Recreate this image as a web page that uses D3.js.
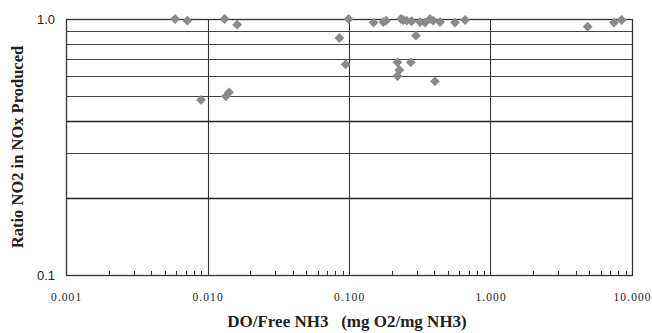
<!DOCTYPE html>
<html>
<head>
<meta charset="utf-8">
<script src="https://cdn.jsdelivr.net/npm/d3@7"></script>
<style>
  body { margin: 0; background: #fff; }
  svg { display: block; }
</style>
</head>
<body>
<svg id="chart" width="652" height="333"></svg>
<script>
// DO / free NH3 ratio (mg O2/mg NH3)
const doRatio = [0.0059, 0.0072, 0.0090, 0.0132, 0.0135, 0.0142, 0.0162, 0.0855, 0.0947, 0.0995,
                 0.149, 0.175, 0.183, 0.220, 0.227, 0.220, 0.233, 0.242, 0.256, 0.273, 0.277, 0.297,
                 0.318, 0.345, 0.374, 0.394, 0.405, 0.440, 0.561, 0.661, 4.86, 7.46, 8.45];
// NO2 / NOx ratio produced
const no2Ratio = [1.0, 0.985, 0.483, 1.0, 0.499, 0.517, 0.95, 0.843, 0.665, 1.0,
                  0.968, 0.973, 0.985, 0.677, 0.632, 0.599, 1.0, 0.991, 0.985, 0.677, 0.98, 0.861,
                  0.973, 0.968, 1.0, 0.985, 0.571, 0.973, 0.968, 0.991, 0.933, 0.968, 0.991];

const xTicks = [0.001, 0.01, 0.1, 1, 10];
const xTickLabels = ['0.001', '0.010', '0.100', '1.000', '10.000'];
const yGrid = [0.2, 0.3, 0.4, 0.5, 0.6, 0.7, 0.8, 0.9];
const yTicks = [0.1, 1.0];
const yTickLabels = ['0.1', '1.0'];

const svg = d3.select('#chart');
const margin = {left: 66, right: 20, top: 19, bottom: 58};
const width = 652, height = 333;
const serif = '"Liberation Serif", "Times New Roman", serif';

const x = d3.scaleLog().domain([0.001, 10]).range([margin.left, width - margin.right]);
const y = d3.scaleLog().domain([0.1, 1]).range([height - margin.bottom, margin.top]);

const grid = svg.append('g');

// horizontal grid
grid.selectAll('line.h')
  .data(yGrid)
  .join('line')
  .attr('class', 'h')
  .attr('x1', x.range()[0]).attr('x2', x.range()[1])
  .attr('y1', d => Math.round(y(d)) + 0.5).attr('y2', d => Math.round(y(d)) + 0.5)
  .attr('stroke', d => (d === 0.2 || d === 0.4) ? '#222' : '#444')
  .attr('stroke-width', d => (d === 0.2 || d === 0.4) ? 1.6 : 1.1);

// vertical grid
grid.selectAll('line.v')
  .data(xTicks.slice(1, -1))
  .join('line')
  .attr('class', 'v')
  .attr('y1', y.range()[0]).attr('y2', y.range()[1])
  .attr('x1', d => Math.round(x(d)) + 0.5).attr('x2', d => Math.round(x(d)) + 0.5)
  .attr('stroke', '#333')
  .attr('stroke-width', 1.1);

// minor ticks on bottom axis
const minor = [];
for (let dec = 0.001; dec < 10; dec *= 10) {
  for (let k = 2; k <= 9; k++) minor.push(+(dec * k).toPrecision(3));
}
grid.selectAll('line.m')
  .data(minor)
  .join('line')
  .attr('class', 'm')
  .attr('x1', d => Math.round(x(d)) + 0.5).attr('x2', d => Math.round(x(d)) + 0.5)
  .attr('y1', y.range()[0]).attr('y2', y.range()[0] - 4)
  .attr('stroke', '#333');

// frame
svg.append('rect')
  .attr('x', x.range()[0] + 0.5).attr('y', y.range()[1] + 0.5)
  .attr('width', x.range()[1] - x.range()[0]).attr('height', y.range()[0] - y.range()[1])
  .attr('fill', 'none').attr('stroke', '#333').attr('stroke-width', 1.3);

// x tick labels
svg.append('g').selectAll('text')
  .data(xTicks)
  .join('text')
  .attr('x', d => x(d) + 0.6)
  .attr('y', 301)
  .attr('text-anchor', 'middle')
  .style('font-family', serif)
  .style('font-size', '11.5px')
  .style('letter-spacing', '1.1px')
  .attr('fill', '#222')
  .text((d, i) => xTickLabels[i]);

// y tick labels
svg.append('g').selectAll('text')
  .data(yTicks)
  .join('text')
  .attr('x', 55)
  .attr('y', d => y(d) + 4.5)
  .attr('text-anchor', 'end')
  .style('font-family', '"Liberation Sans", Arial, sans-serif')
  .style('font-size', '13px')
  .attr('fill', '#222')
  .text((d, i) => yTickLabels[i]);

// axis titles
svg.append('text')
  .attr('x', 347).attr('y', 327)
  .attr('text-anchor', 'middle')
  .style('font-family', serif)
  .style('font-size', '17px')
  .style('font-weight', 'bold')
  .attr('fill', '#222')
  .attr('xml:space', 'preserve')
  .text('DO/Free NH3   (mg O2/mg NH3)');

svg.append('text')
  .attr('transform', `translate(23, ${(y.range()[0] + y.range()[1]) / 2}) rotate(-90)`)
  .attr('text-anchor', 'middle')
  .style('font-family', serif)
  .style('font-size', '16.5px')
  .style('font-weight', 'bold')
  .attr('fill', '#222')
  .text('Ratio NO2 in NOx Produced');

// points
const diamond = d3.symbol().type(d3.symbolSquare).size(48);
svg.append('g').selectAll('path')
  .data(doRatio.map((d, i) => [d, no2Ratio[i]]))
  .join('path')
  .attr('d', diamond)
  .attr('transform', d => `translate(${x(d[0])},${y(d[1])}) rotate(45)`)
  .attr('fill', '#8a8a8a');
</script>
</body>
</html>
